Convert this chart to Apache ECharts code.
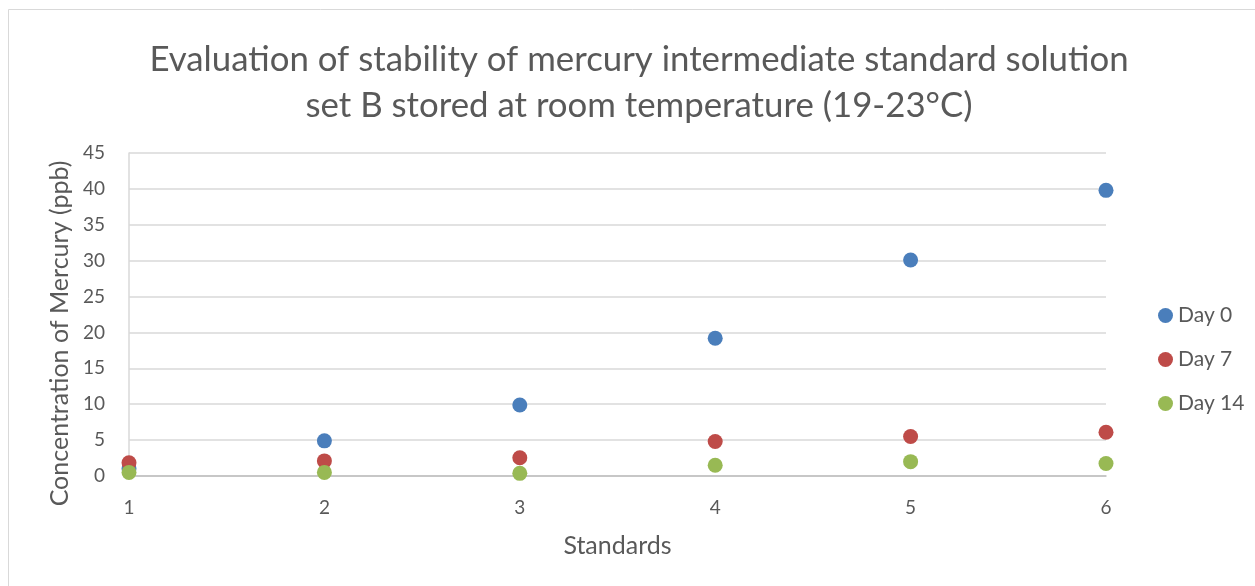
<!DOCTYPE html>
<html>
<head>
<meta charset="utf-8">
<script src="https://cdn.jsdelivr.net/npm/echarts@6/dist/echarts.min.js"></script>
<style>
  html, body { margin: 0; padding: 0; background: #ffffff; }
  #chart { width: 1255px; height: 586px; }
</style>
</head>
<body>
<div id="chart"></div>
<script>
// Standards 1-6 and measured mercury concentration (ppb) per storage day
const standards = [1, 2, 3, 4, 5, 6];
const day0 = [1.0, 4.9, 9.9, 19.2, 30.1, 39.8];
const day7 = [1.85, 2.1, 2.55, 4.8, 5.5, 6.1];
const day14 = [0.5, 0.5, 0.37, 1.5, 2.0, 1.75];
const seriesNames = ['Day 0', 'Day 7', 'Day 14'];
const seriesColors = ['#4a7ebb', '#be4b48', '#98b954'];

const font = 'Lato, "Noto Sans", sans-serif';
const textColor = '#595959';

const pairs = vals => standards.map((s, i) => [s, vals[i]]);

const chart = echarts.init(document.getElementById('chart'), null, { renderer: 'canvas' });
chart.setOption({
  animation: false,
  backgroundColor: '#ffffff',
  textStyle: { fontFamily: font },
  title: {
    text: 'Evaluation of stability of mercury intermediate standard solution\nset B stored at room temperature (19-23°C)',
    left: 634,
    textAlign: 'center',
    top: 32,
    textStyle: {
      fontFamily: font,
      fontWeight: 'normal',
      fontSize: 34.8,
      color: textColor,
      lineHeight: 46
    }
  },
  legend: {
    orient: 'vertical',
    left: 1153,
    top: 300,
    icon: 'circle',
    itemWidth: 15,
    itemHeight: 15,
    itemGap: 23,
    textStyle: { fontFamily: font, fontSize: 21, color: textColor },
    data: seriesNames
  },
  grid: { left: 129, right: 149, top: 153, bottom: 110, containLabel: false },
  xAxis: {
    type: 'value',
    min: 1,
    max: 6,
    interval: 1,
    name: 'Standards',
    nameLocation: 'middle',
    nameGap: 57,
    nameTextStyle: { fontFamily: font, fontSize: 25, color: textColor },
    axisLine: { show: true, onZero: false, lineStyle: { color: '#bfbfbf', width: 1.5 } },
    axisTick: { show: false },
    splitLine: { show: false },
    axisLabel: { fontFamily: font, fontSize: 19, color: textColor, margin: 22 }
  },
  yAxis: {
    type: 'value',
    min: 0,
    max: 45,
    interval: 5,
    name: 'Concentration of Mercury (ppb)',
    nameLocation: 'middle',
    nameGap: 54,
    // extra trailing padding nudges the rotated title down toward the labels' span
    nameTextStyle: { fontFamily: font, fontSize: 25, color: textColor, padding: [0, 38, 0, 0] },
    axisLine: { show: true, lineStyle: { color: '#d9d9d9', width: 1.5 } },
    axisTick: { show: false },
    splitLine: { show: true, lineStyle: { color: '#d9d9d9', width: 1.5 } },
    axisLabel: { fontFamily: font, fontSize: 19, color: textColor, margin: 24 }
  },
  graphic: [{
    type: 'rect',
    silent: true,
    z: -1,
    shape: { x: 8.5, y: 9.5, width: 1260, height: 600 },
    style: { fill: 'none', stroke: '#d9d9d9', lineWidth: 1 }
  }],
  series: [day0, day7, day14].map((vals, i) => ({
    name: seriesNames[i],
    type: 'scatter',
    symbol: 'circle',
    symbolSize: 15,
    itemStyle: { color: seriesColors[i], opacity: 1 },
    data: pairs(vals)
  }))
});
</script>
</body>
</html>
